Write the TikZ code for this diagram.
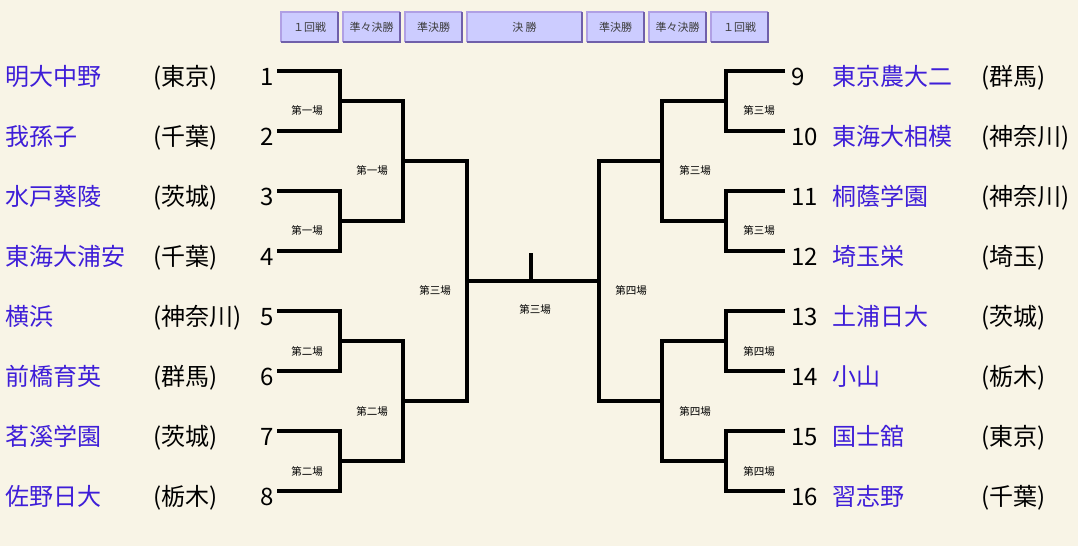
\documentclass[tikz,border=0pt]{standalone}
\usepackage{fontspec}
\setmainfont{Noto Sans CJK JP}
\usetikzlibrary{positioning}
\definecolor{bgcream}{RGB}{248,244,230}
\definecolor{namecol}{RGB}{62,30,216}
\definecolor{tabfill}{RGB}{204,204,255}
\definecolor{tablight}{RGB}{176,160,228}
\definecolor{tabdark}{RGB}{112,96,170}
\definecolor{tabtext}{RGB}{60,60,60}
\tikzset{
  bracket/.style={line width=4pt},
  school/.style={inner sep=0pt, text=namecol, font=\fontsize{24}{28}\selectfont},
  pref/.style={inner sep=0pt, font=\fontsize{24}{28}\selectfont},
  seed/.style={inner sep=0pt, font=\fontsize{24}{28}\selectfont},
  venue/.style={inner sep=0pt, font=\fontsize{10.5}{12}\selectfont},
  tab/.style={fill=tabfill, inner sep=0pt, minimum height=30pt, text=tabtext, font=\fontsize{11}{12}\selectfont},
  tabhi/.style={draw=tablight, line width=2.5pt},
  tablo/.style={draw=tabdark, line width=2.5pt}
}
\begin{document}
\begin{tikzpicture}[x=1pt,y=-1pt]
		\useasboundingbox (0,0) rectangle (1078,546);
		\fill[bgcream] (0,0) rectangle (1078,546);
		% round buttons
		\foreach \t/\cx/\w/\txt in {t1/309.5/57/１回戦, t2/371.5/57/準々決勝, t3/433.5/57/準決勝, t4/524.5/115/決 勝, t5/615.5/57/準決勝, t6/677.5/57/準々決勝, t7/739.5/57/１回戦}{
			\node[tab, minimum width=\w pt] (\t) at (\cx,27) {\txt};
			\draw[tabhi] (\t.south west) |- (\t.north east);
			\draw[tablo] (\t.south west) -| (\t.north east);
		}
		% left schools
		\foreach \i/\sch/\pr in {1/明大中野/東京, 2/我孫子/千葉, 3/水戸葵陵/茨城, 4/東海大浦安/千葉, 5/横浜/神奈川, 6/前橋育英/群馬, 7/茗溪学園/茨城, 8/佐野日大/栃木}{
			\node[school, anchor=base west] (n\i) at (5,{25+60*\i}) {\sch};
			\node[pref, anchor=base west] (p\i) at (153,{25+60*\i}) {(\pr)};
			\node[seed, anchor=base east] (s\i) at (274,{25+60*\i}) {\i};
			\coordinate (L\i) at (277,{11+60*\i});
		}
		% right schools
		\foreach \i/\sch/\pr in {1/東京農大二/群馬, 2/東海大相模/神奈川, 3/桐蔭学園/神奈川, 4/埼玉栄/埼玉, 5/土浦日大/茨城, 6/小山/栃木, 7/国士舘/東京, 8/習志野/千葉}{
			\pgfmathtruncatemacro\num{\i+8}
			\node[seed, anchor=base west] (s\num) at (791,{25+60*\i}) {\num};
			\node[school, anchor=base west] (n\num) at (832,{25+60*\i}) {\sch};
			\node[pref, anchor=base west] (p\num) at (981,{25+60*\i}) {(\pr)};
			\coordinate (R\i) at (785,{11+60*\i});
		}
		% junctions
		\foreach \k in {1,...,4}{
			\coordinate (a\k) at (340,{-19+120*\k});
			\coordinate (ra\k) at (726,{-19+120*\k});
		}
		\foreach \j in {1,2}{
			\coordinate (b\j) at (403,{-79+240*\j});
			\coordinate (rb\j) at (662,{-79+240*\j});
		}
		\coordinate (c) at (467,281);
		\coordinate (rc) at (599,281);
		\coordinate (top) at (531,253);
		% brackets
		\foreach \k in {1,...,4}{
			\pgfmathtruncatemacro\a{2*\k-1}
			\pgfmathtruncatemacro\b{2*\k}
			\draw[bracket] (L\a) -| (a\k) |- (L\b);
			\draw[bracket] (R\a) -| (ra\k) |- (R\b);
		}
		\foreach \j in {1,2}{
			\pgfmathtruncatemacro\a{2*\j-1}
			\pgfmathtruncatemacro\b{2*\j}
			\draw[bracket] (a\a) -| (b\j) |- (a\b);
			\draw[bracket] (ra\a) -| (rb\j) |- (ra\b);
		}
		\draw[bracket] (b1) -| (c) |- (b2);
		\draw[bracket] (rb1) -| (rc) |- (rb2);
		\draw[bracket] (c) -- (rc);
		\draw[bracket] (top) -- (top |- c);
		% venues
		\foreach \k/\v/\rv in {1/第一場/第三場, 2/第一場/第三場, 3/第二場/第四場, 4/第二場/第四場}{
			\node[venue] (va\k) at ([shift={(-33,10)}]a\k) {\v};
			\node[venue] (vra\k) at ([shift={(33,10)}]ra\k) {\rv};
		}
		\foreach \j/\v/\rv in {1/第一場/第三場, 2/第二場/第四場}{
			\node[venue] (vb\j) at ([shift={(-31,10)}]b\j) {\v};
			\node[venue] (vrb\j) at ([shift={(33,10)}]rb\j) {\rv};
		}
		\node[venue] (vc) at ([shift={(-32,10)}]c) {第三場};
		\node[venue] (vrc) at ([shift={(32,10)}]rc) {第四場};
		\node[venue] (vf) at (535,309) {第三場};
	\end{tikzpicture}
\end{document}
